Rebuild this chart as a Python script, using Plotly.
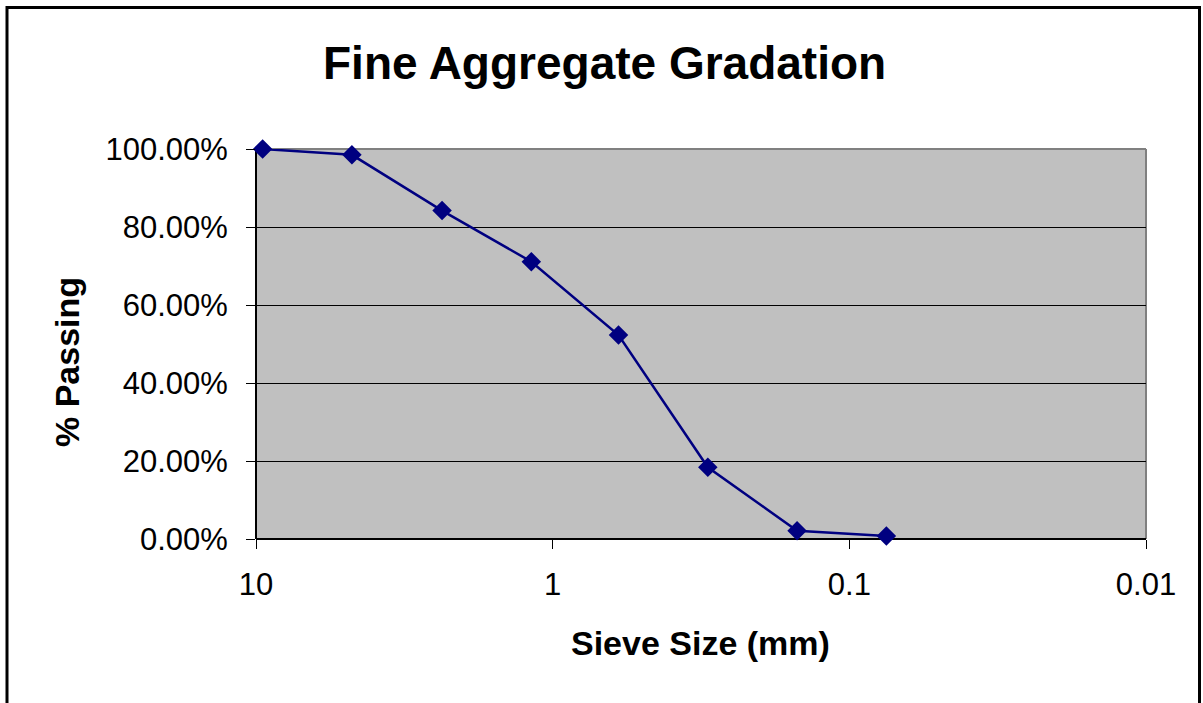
import plotly.graph_objects as go

# Sieve analysis of the fine aggregate sample
sieve_mm = [9.5, 4.75, 2.36, 1.18, 0.6, 0.3, 0.15, 0.075]
pct_passing = [1.000, 0.985, 0.842, 0.711, 0.523, 0.184, 0.021, 0.008]

x_tick_vals = [10, 1, 0.1, 0.01]
x_tick_text = ["10", "1", "0.1", "0.01"]
y_tick_vals = [0, 0.2, 0.4, 0.6, 0.8, 1.0]

FONT = "Liberation Sans, Arial, sans-serif"
NAVY = "#000080"

fig = go.Figure()
fig.add_trace(go.Scatter(
    x=sieve_mm,
    y=pct_passing,
    mode="lines+markers",
    line=dict(color=NAVY, width=2.5),
    marker=dict(symbol="diamond", size=15, color=NAVY),
    showlegend=False,
    cliponaxis=False,
))

fig.update_layout(
    width=1203,
    height=703,
    margin=dict(l=256, r=57, t=149, b=164, pad=0),
    paper_bgcolor="white",
    plot_bgcolor="#c0c0c0",
    font=dict(family=FONT, color="black"),
    xaxis=dict(
        type="log",
        range=[1, -2],
        tickvals=x_tick_vals,
        ticktext=x_tick_text,
        ticks="outside",
        ticklen=9,
        tickwidth=1,
        tickcolor="black",
        tickfont=dict(size=31, family=FONT),
        ticklabelstandoff=9,
        showgrid=False,
        showline=False,
        zeroline=False,
    ),
    yaxis=dict(
        range=[0, 1],
        tickvals=y_tick_vals,
        tickformat=".2%",
        ticks="outside",
        ticklen=9,
        tickwidth=1,
        tickcolor="black",
        tickfont=dict(size=31, family=FONT),
        ticklabelstandoff=12,
        showgrid=True,
        gridcolor="black",
        gridwidth=1,
        showline=False,
        zeroline=False,
    ),
    shapes=[
        # plot area frame: grey top/right, black left/bottom
        dict(type="line", xref="paper", yref="paper", x0=0, x1=1, y0=1, y1=1,
             line=dict(color="#808080", width=2), layer="below"),
        dict(type="line", xref="paper", yref="paper", x0=1, x1=1, y0=0, y1=1,
             line=dict(color="#808080", width=2), layer="below"),
        dict(type="line", xref="paper", yref="paper", x0=0, x1=0, y0=0, y1=1,
             line=dict(color="black", width=2), layer="below"),
        dict(type="line", xref="paper", yref="paper", x0=0, x1=1, y0=0, y1=0,
             line=dict(color="black", width=2), layer="below"),
        # chart border
        dict(type="rect", xref="paper", yref="paper",
             x0=(7 - 256) / 890, x1=(1199.5 - 256) / 890,
             y0=(539 - 720) / 390, y1=(539 - 7.5) / 390,
             line=dict(color="black", width=3), fillcolor="rgba(0,0,0,0)"),
    ],
    annotations=[
        dict(text="<b>Fine Aggregate Gradation</b>", xref="paper", yref="paper",
             x=(604 - 256) / 890, y=(539 - 63) / 390, xanchor="center", yanchor="middle",
             showarrow=False, font=dict(size=46, family=FONT, color="black")),
        dict(text="<b>Sieve Size (mm)</b>", xref="paper", yref="paper",
             x=(700 - 256) / 890, y=(539 - 643) / 390, xanchor="center", yanchor="middle",
             showarrow=False, font=dict(size=34, family=FONT, color="black")),
        dict(text="<b>% Passing</b>", xref="paper", yref="paper",
             x=(67 - 256) / 890, y=(539 - 362) / 390, xanchor="center", yanchor="middle",
             textangle=-90, showarrow=False, font=dict(size=34, family=FONT, color="black")),
    ],
)

fig.write_html("out.html")
